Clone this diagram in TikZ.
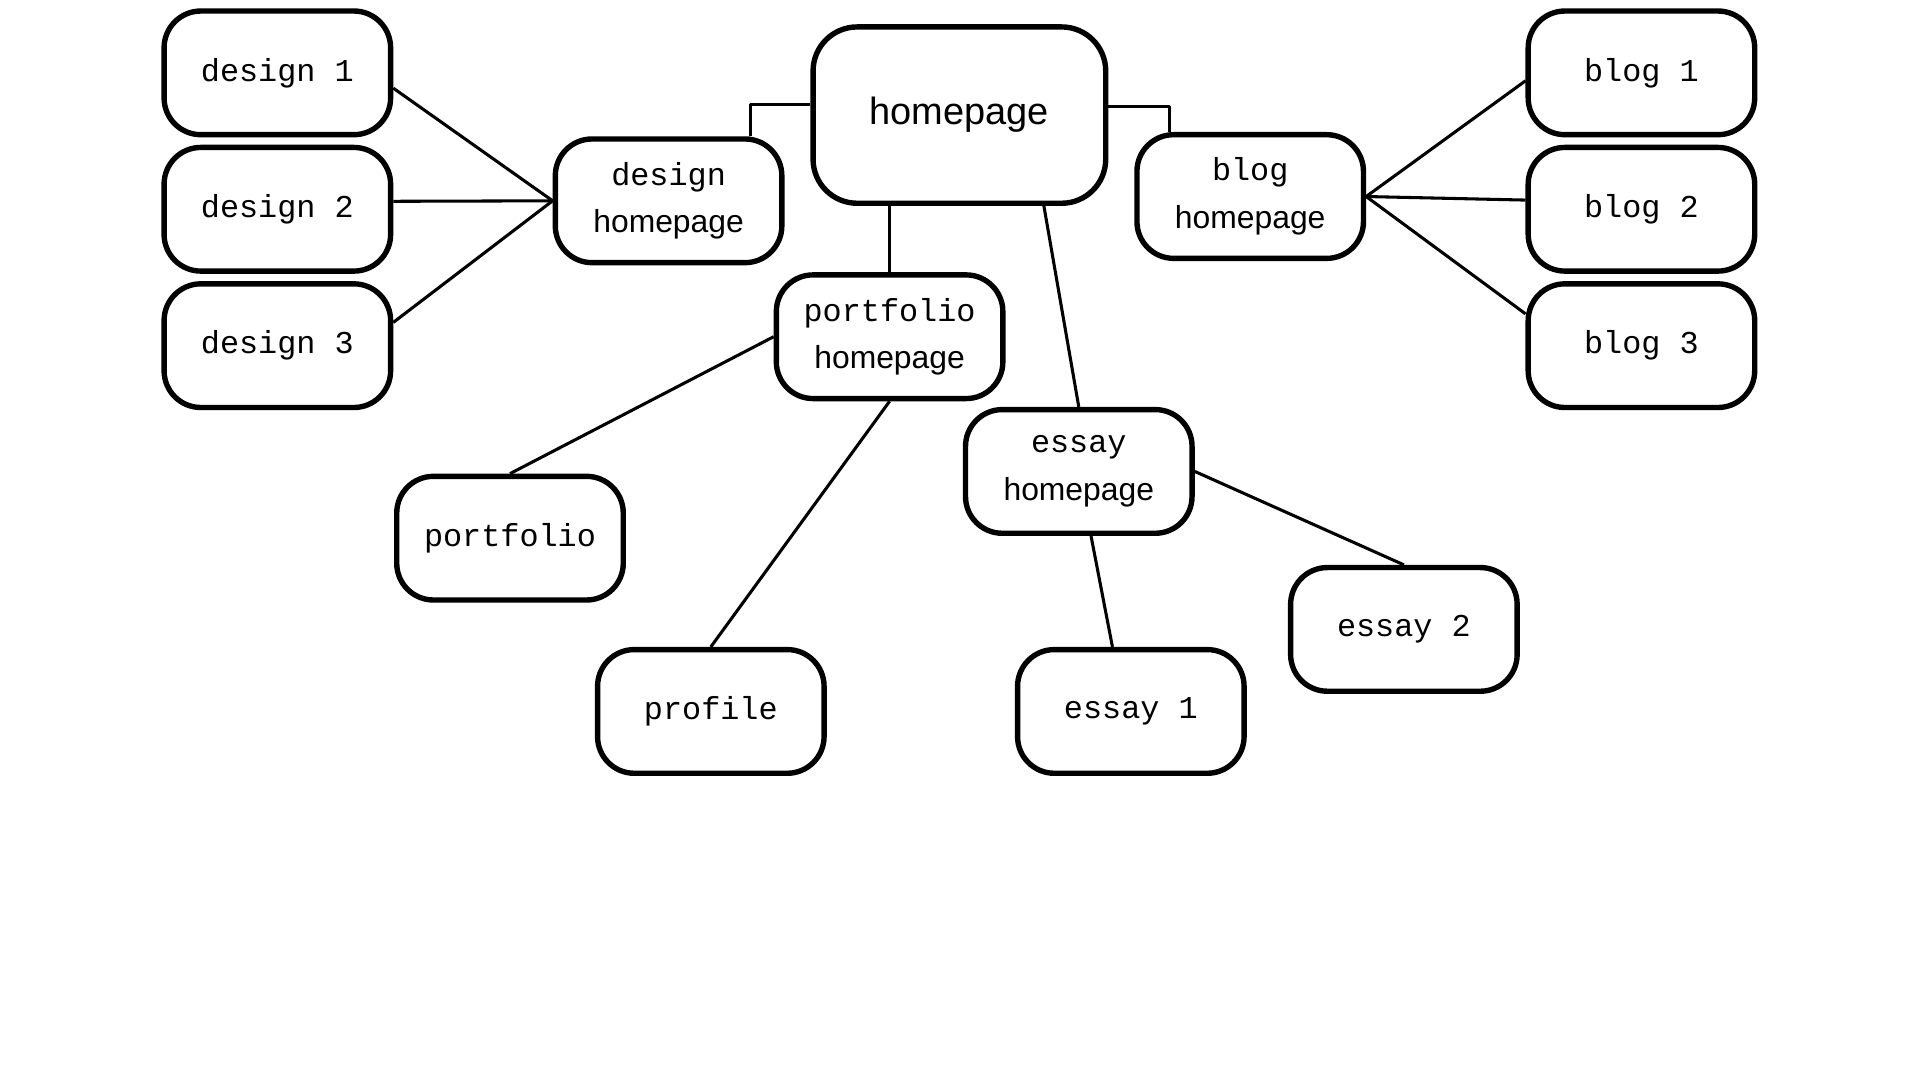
\documentclass[tikz,border=0pt]{standalone}
\usepackage{fontspec}
\setmonofont{Liberation Mono}
\setsansfont{Liberation Sans}
\usetikzlibrary{positioning}

\begin{document}
\begin{tikzpicture}[
    x=1pt, y=-1pt, line join=round,
    pnode/.style={draw, line width=4.4, rounded corners=30, minimum width=185, minimum height=101,
      align=center, inner sep=0, font=\ttfamily\fontsize{26}{39}\selectfont},
    hnode/.style={pnode, font=\sffamily\fontsize{31}{39}\selectfont,
      minimum width=239, minimum height=144, rounded corners=36},
    link/.style={line width=2.5},
  ]
  \useasboundingbox (0,0) rectangle (1568,882);

  \node[hnode] (home) at (783.5,94) {homepage};
  \node[pnode] (dhome) at (546,164) {design\\{\sffamily homepage}};
  \node[pnode] (bhome) at (1021,160.5) {blog\\{\sffamily homepage}};
  \node[pnode] (phome) at (726.5,275) {portfolio\\{\sffamily homepage}};
  \node[pnode] (ehome) at (881,385) {essay\\{\sffamily homepage}};

  \draw[link] ([yshift=9]home.west) -| ([xshift=67]dhome.north);
  \draw[link] ([yshift=7]home.east) -| ([xshift=-66]bhome.north);
  \draw[link] (home.south -| phome.north) -- (phome.north);
  \draw[link] ([xshift=69]home.south) -- (ehome.north);

  % design pages
  \node[pnode] (d1) at (226.5,59.5) {design 1};
  \node[pnode, below=6pt of d1] (d2) {design 2};
  \node[pnode, below=6pt of d2] (d3) {design 3};
  \foreach \i/\dy in {1/-12.5, 2/6.5, 3/19}
    \draw[link] (dhome.west) -- ([yshift=\dy]d\i.east);

  % blog pages
  \node[pnode] (b1) at (1340.5,59.5) {blog 1};
  \node[pnode, below=6pt of b1] (b2) {blog 2};
  \node[pnode, below=6pt of b2] (b3) {blog 3};
  \foreach \i/\dy in {1/-6.5, 2/7.5, 3/26}
    \draw[link] (bhome.east) -- ([yshift=\dy]b\i.west);

  % portfolio and essay pages
  \node[pnode] (port) at (416.5,439.5) {portfolio};
  \node[pnode] (prof) at (580.5,581) {profile};
  \node[pnode] (e1) at (923.5,581) {essay 1};
  \node[pnode] (e2) at (1146.5,514) {essay 2};
  \draw[link] (phome.west) -- (port.north);
  \draw[link] (phome.south) -- (prof.north);
  \draw[link] ([xshift=10]ehome.south) -- ([xshift=-15]e1.north);
  \draw[link] (ehome.east) -- (e2.north);

\end{tikzpicture}
\end{document}
